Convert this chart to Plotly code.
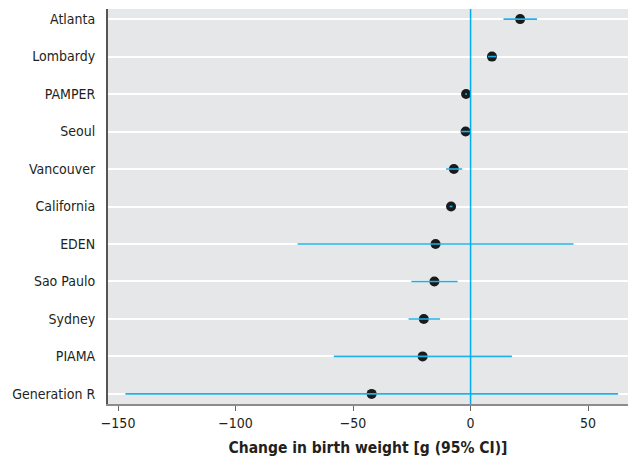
import plotly.graph_objects as go

cohorts = ["Atlanta", "Lombardy", "PAMPER", "Seoul", "Vancouver", "California",
           "EDEN", "Sao Paulo", "Sydney", "PIAMA", "Generation R"]
estimate = [21.1, 9.1, -1.9, -2.1, -7.1, -8.3, -14.9, -15.4, -19.9, -20.4, -42.1]
ci_low = [14.0, 7.4, -2.3, -4.0, -10.4, -8.9, -73.6, -25.2, -26.4, -58.2, -146.9]
ci_high = [28.3, 11.0, -1.5, -0.3, -3.6, -7.7, 43.8, -5.5, -13.0, 17.6, 62.8]
x_ticks = [-150, -100, -50, 0, 50]
x_tick_labels = ["\u2212150", "\u2212100", "\u221250", "0", "50"]

FONT = "DejaVu Sans Condensed, Liberation Sans Narrow, Arial Narrow, sans-serif"
BLUE = "#1fb0e8"

seg_x, seg_y = [], []
for c, lo, hi in zip(cohorts, ci_low, ci_high):
    seg_x += [lo, hi, None]
    seg_y += [c, c, None]

fig = go.Figure()
fig.add_trace(go.Scatter(
    x=estimate, y=cohorts, mode="markers",
    marker=dict(color="#1a1a1a", size=10, line=dict(width=0)),
    showlegend=False, hoverinfo="skip"))
fig.add_trace(go.Scatter(
    x=seg_x, y=seg_y, mode="lines",
    line=dict(color=BLUE, width=1.6),
    showlegend=False, hoverinfo="skip"))

fig.add_vline(x=0, line=dict(color="#00aeef", width=1.5), layer="above")

fig.update_layout(
    width=631, height=460,
    margin=dict(l=108, r=3, t=9, b=56),
    paper_bgcolor="white", plot_bgcolor="#e6e7e8",
    font=dict(family=FONT, size=14, color="#231f20"),
)
fig.update_xaxes(
    range=[-154.3, 67.0], tickvals=x_ticks, ticktext=x_tick_labels,
    showgrid=False, zeroline=False,
    showline=True, linecolor="#8c8c8c", linewidth=1.5,
    ticks="outside", ticklen=5, tickcolor="#666666", tickwidth=1,
    tickfont=dict(size=14),
    title=dict(text="<b>Change in birth weight [g (95% CI)]</b>", font=dict(size=15.5), standoff=13),
)
fig.update_yaxes(
    categoryorder="array", categoryarray=cohorts[::-1],
    range=[-0.27, 10.27],
    showgrid=True, gridcolor="white", gridwidth=1.5,
    zeroline=False, showline=True, linecolor="#555555", linewidth=2,
    ticks="", ticklabelstandoff=8, tickfont=dict(size=14),
)

fig.write_html(
    "out.html",
    config={"displayModeBar": False},
    post_script="document.body.style.margin='0';document.body.style.overflow='hidden';",
)
